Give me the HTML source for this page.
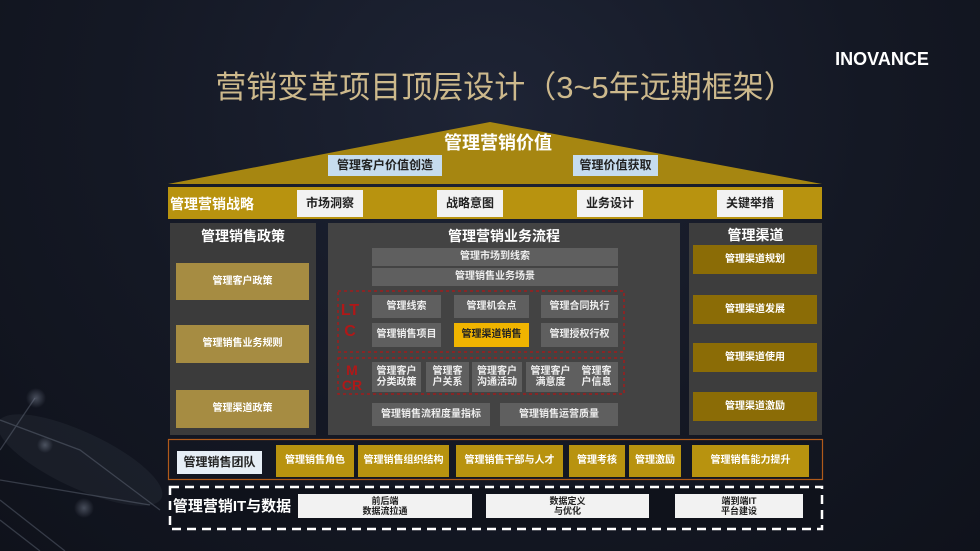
<!DOCTYPE html>
<html><head><meta charset="utf-8"><style>
*{margin:0;padding:0;box-sizing:border-box}
body{width:980px;height:551px;overflow:hidden;background:radial-gradient(ellipse at 50% 20%,#1e2435 0%,#141824 55%,#0f121b 100%);font-family:"Liberation Sans","Noto Sans CJK SC",sans-serif;position:relative}
.a{position:absolute;display:flex;align-items:center;justify-content:center;text-align:center;font-weight:bold;color:#fff;line-height:1.15}
.g{background:#a68c42;font-size:10px}
.y{background:#8b6c06;font-size:10px}
.gb{background:#b8930f;font-size:10px}
.gr{background:#5f5f5f;font-size:10px;color:#eee}
.w{background:#f2f2f2;color:#222;font-size:10px}
.lb{background:#c6dcee;color:#222;font-size:12px}
.wb{background:#e6eef6;color:#222;font-size:12px}
</style></head><body>
<svg width="980" height="551" style="position:absolute;left:0;top:0">
<defs><radialGradient id="gl"><stop offset="0" stop-color="#8a93a5" stop-opacity=".45"/><stop offset="1" stop-color="#8a93a5" stop-opacity="0"/></radialGradient></defs>
<g stroke="#7d8698" stroke-opacity=".35" stroke-width="1.3" fill="none">
<path d="M0 500 L65 551 M0 520 L40 551 M0 420 L80 450 L160 510 M35 398 L0 450 M0 480 L150 505"/>
</g>
<circle cx="36" cy="398" r="10" fill="url(#gl)"/><circle cx="84" cy="508" r="10" fill="url(#gl)"/><circle cx="45" cy="445" r="8" fill="url(#gl)"/>
<ellipse cx="80" cy="460" rx="90" ry="28" fill="#8a93a5" fill-opacity=".08" transform="rotate(25 80 460)"/>
<polygon points="168,184 490,122 822,184" fill="#a68611"/>
<rect x="168" y="187" width="654" height="32" fill="#b8930f"/>
<rect x="170" y="223" width="146" height="212" fill="#3b3b3b"/>
<rect x="328" y="223" width="352" height="212" fill="#434343"/>
<rect x="689" y="223" width="133" height="212" fill="#3d3d3d"/>
<rect x="168.5" y="439.5" width="654" height="40" fill="none" stroke="#b05a1a" stroke-width="1.2"/>
<rect x="170" y="487" width="652" height="42" fill="#0f121b" stroke="#fff" stroke-width="2.5" stroke-dasharray="9,6"/>
<rect x="338" y="291" width="286" height="61" fill="none" stroke="#a01c1c" stroke-width="1.5" stroke-dasharray="3,3"/>
<rect x="338" y="358" width="286" height="36" fill="none" stroke="#a01c1c" stroke-width="1.5" stroke-dasharray="3,3"/>
</svg>
<div class="a" style="left:200px;top:66px;width:610px;height:44px;font-size:31px;font-weight:normal;color:#cdb98c;white-space:nowrap">营销变革项目顶层设计（3~5年远期框架）</div>
<div class="a" style="left:826px;top:46px;width:112px;height:26px;font-size:18px">INOVANCE</div>
<div class="a" style="left:420px;top:131px;width:156px;height:24px;font-size:18px">管理营销价值</div>
<div class="a lb" style="left:328px;top:155px;width:114px;height:21px">管理客户价值创造</div>
<div class="a lb" style="left:573px;top:155px;width:85px;height:21px">管理价值获取</div>
<div class="a" style="left:170px;top:192px;width:92px;height:24px;font-size:14px;justify-content:flex-start">管理营销战略</div>
<div class="a w" style="left:297px;top:190px;width:66px;height:27px;font-size:12px">市场洞察</div>
<div class="a w" style="left:437px;top:190px;width:66px;height:27px;font-size:12px">战略意图</div>
<div class="a w" style="left:577px;top:190px;width:66px;height:27px;font-size:12px">业务设计</div>
<div class="a w" style="left:717px;top:190px;width:66px;height:27px;font-size:12px">关键举措</div>
<div class="a" style="left:170px;top:226px;width:146px;height:20px;font-size:14px">管理销售政策</div>
<div class="a g" style="left:176px;top:263px;width:133px;height:37px">管理客户政策</div>
<div class="a g" style="left:176px;top:325px;width:133px;height:38px">管理销售业务规则</div>
<div class="a g" style="left:176px;top:390px;width:133px;height:38px">管理渠道政策</div>
<div class="a" style="left:328px;top:226px;width:352px;height:20px;font-size:14px">管理营销业务流程</div>
<div class="a gr" style="left:372px;top:248px;width:246px;height:18px">管理市场到线索</div>
<div class="a gr" style="left:372px;top:268px;width:246px;height:18px">管理销售业务场景</div>
<div class="a" style="left:339px;top:300px;width:22px;height:44px;font-size:16px;color:#b01818;line-height:1.3">LT<br>C</div>
<div class="a gr" style="left:372px;top:295px;width:69px;height:23px">管理线索</div>
<div class="a gr" style="left:454px;top:295px;width:75px;height:23px">管理机会点</div>
<div class="a gr" style="left:541px;top:295px;width:77px;height:23px">管理合同执行</div>
<div class="a gr" style="left:372px;top:323px;width:69px;height:24px">管理销售项目</div>
<div class="a" style="left:454px;top:323px;width:75px;height:24px;background:#f0b400;color:#222;font-size:10px">管理渠道销售</div>
<div class="a gr" style="left:541px;top:323px;width:77px;height:24px">管理授权行权</div>
<div class="a" style="left:340px;top:362px;width:24px;height:32px;font-size:14px;color:#b01818;line-height:1.1">M<br>CR</div>
<div class="a gr" style="left:372px;top:362px;width:49px;height:30px">管理客户<br>分类政策</div>
<div class="a gr" style="left:426px;top:362px;width:43px;height:30px">管理客<br>户关系</div>
<div class="a gr" style="left:472px;top:362px;width:50px;height:30px">管理客户<br>沟通活动</div>
<div class="a gr" style="left:526px;top:362px;width:49px;height:30px">管理客户<br>满意度</div>
<div class="a gr" style="left:575px;top:362px;width:43px;height:30px">管理客<br>户信息</div>
<div class="a gr" style="left:372px;top:403px;width:118px;height:23px">管理销售流程度量指标</div>
<div class="a gr" style="left:500px;top:403px;width:118px;height:23px">管理销售运营质量</div>
<div class="a" style="left:689px;top:226px;width:133px;height:18px;font-size:14px">管理渠道</div>
<div class="a y" style="left:693px;top:245px;width:124px;height:29px">管理渠道规划</div>
<div class="a y" style="left:693px;top:295px;width:124px;height:29px">管理渠道发展</div>
<div class="a y" style="left:693px;top:343px;width:124px;height:29px">管理渠道使用</div>
<div class="a y" style="left:693px;top:392px;width:124px;height:29px">管理渠道激励</div>
<div class="a wb" style="left:177px;top:451px;width:85px;height:23px">管理销售团队</div>
<div class="a gb" style="left:276px;top:445px;width:78px;height:32px">管理销售角色</div>
<div class="a gb" style="left:358px;top:445px;width:91px;height:32px">管理销售组织结构</div>
<div class="a gb" style="left:456px;top:445px;width:107px;height:32px">管理销售干部与人才</div>
<div class="a gb" style="left:569px;top:445px;width:56px;height:32px">管理考核</div>
<div class="a gb" style="left:629px;top:445px;width:52px;height:32px">管理激励</div>
<div class="a gb" style="left:692px;top:445px;width:117px;height:32px">管理销售能力提升</div>
<div class="a" style="left:172px;top:495px;width:120px;height:24px;font-size:15px">管理营销IT与数据</div>
<div class="a w" style="left:298px;top:494px;width:174px;height:24px;font-size:9px">前后端<br>数据流拉通</div>
<div class="a w" style="left:486px;top:494px;width:163px;height:24px;font-size:9px">数据定义<br>与优化</div>
<div class="a w" style="left:675px;top:494px;width:128px;height:24px;font-size:9px">端到端IT<br>平台建设</div>
</body></html>
